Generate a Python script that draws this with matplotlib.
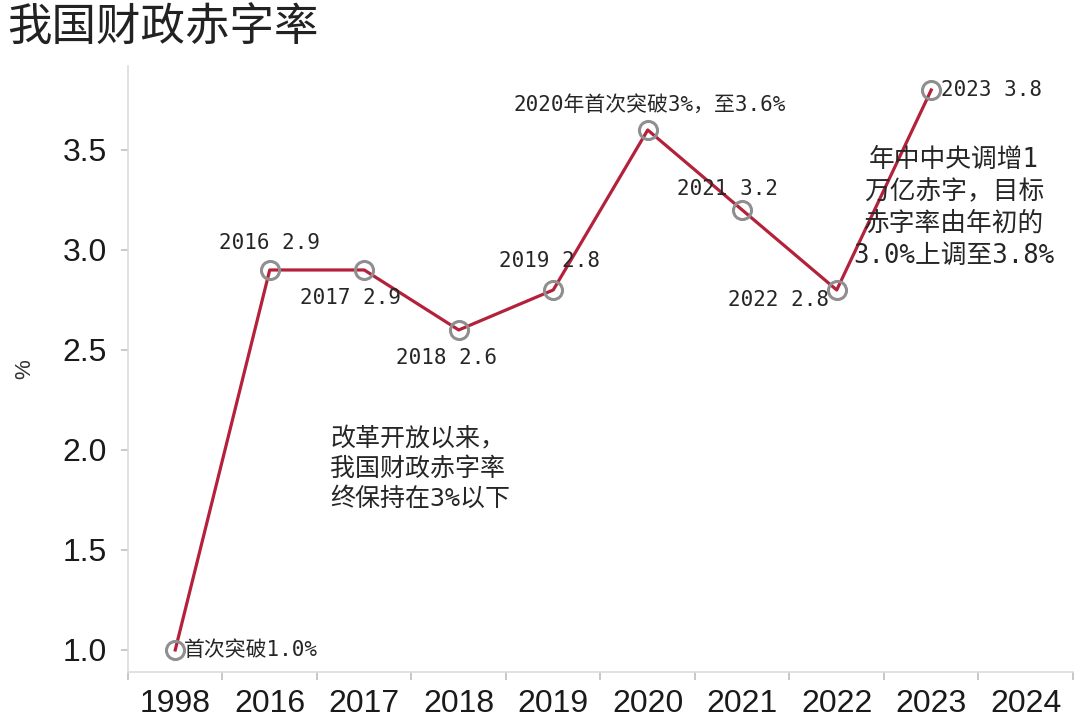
import matplotlib
matplotlib.use('Agg')
import matplotlib.pyplot as plt
from matplotlib.ticker import FixedLocator

plt.rcParams['font.family'] = ['Noto Sans CJK SC', 'DejaVu Sans']
MIX = ['DejaVu Sans Mono', 'Noto Sans CJK SC']  # chu so dang mono, chu Han fallback

# 数据
years = ['1998', '2016', '2017', '2018', '2019', '2020', '2021', '2022', '2023', '2024']
deficit = [1.0, 2.9, 2.9, 2.6, 2.8, 3.6, 3.2, 2.8, 3.8]
point_labels = ['首次突破1.0%', '2016 2.9', '2017 2.9', '2018 2.6', '2019 2.8',
                '2020年首次突破3%，至3.6%', '2021 3.2', '2022 2.8', '2023 3.8']
# offset (px) va can le cho tung nhan
label_offsets = [(9, 0, 'left'), (0, 27, 'center'), (-14, -28, 'center'),
                 (-12, -28, 'center'), (-4, 29, 'center'), (2, 25, 'center'),
                 (-15, 21, 'center'), (-8, -10, 'right'), (10, 0, 'left')]
note_left = '改革开放以来，\n我国财政赤字率\n终保持在3%以下'
note_right = '年中中央调增1\n万亿赤字，目标\n赤字率由年初的\n3.0%上调至3.8%'

fig = plt.figure(figsize=(10.8, 7.22), dpi=100)
ax = fig.add_axes([0.1185, 0.0693, 0.875, 0.8393])

xs = list(range(len(deficit)))
ax.plot(xs, deficit, color='#b3213b', linewidth=2.3, zorder=2)
ax.plot(xs, deficit, linestyle='none', marker='o', markersize=13,
        markerfacecolor='none', markeredgecolor='#8f8f8f', markeredgewidth=2.2, zorder=3)

txt_color = '#262626'
for x, y, lab, (dx, dy, ha) in zip(xs, deficit, point_labels, label_offsets):
    ax.annotate(lab, (x, y), xytext=(dx, dy), textcoords='offset pixels',
                ha=ha, va='center', fontsize=15, family=MIX, color=txt_color, zorder=4)

ax.text(1.64, 1.905, note_left, ha='left', va='center', fontsize=18, family=MIX,
        color=txt_color, linespacing=1.3)
ax.text(8.24, 3.21, note_right, ha='center', va='center', fontsize=18.5, family=MIX,
        color=txt_color, linespacing=1.3)

ax.set_xlim(-0.5, len(years) - 0.5)
ax.set_ylim(0.89, 3.92)

ax.set_xticks(range(len(years)))
ax.set_xticklabels(years, family='Liberation Sans', fontsize=23, color='#1a1a1a')
ax.xaxis.set_minor_locator(FixedLocator([i - 0.5 for i in range(len(years) + 1)]))
ax.tick_params(axis='x', which='major', length=0, pad=12)
ax.tick_params(axis='x', which='minor', length=6, width=1.2, color='#bfbfbf', direction='out')

ax.set_yticks([1.0, 1.5, 2.0, 2.5, 3.0, 3.5])
ax.set_yticklabels(['1.0', '1.5', '2.0', '2.5', '3.0', '3.5'],
                   family='Liberation Sans', fontsize=23, color='#1a1a1a')
ax.tick_params(axis='y', length=5, width=1.2, color='#bfbfbf', pad=10)

for side in ['top', 'right']:
    ax.spines[side].set_visible(False)
for side in ['left', 'bottom']:
    ax.spines[side].set_color('#dcdcdc')
    ax.spines[side].set_linewidth(1.2)

ax.set_ylabel('%', family='Liberation Sans', fontsize=16, color='#333333', labelpad=20)

fig.text(0.007, 0.962, '我国财政赤字率', fontsize=32, color='#222222', ha='left', va='center')

fig.savefig('out.png', dpi=100)
